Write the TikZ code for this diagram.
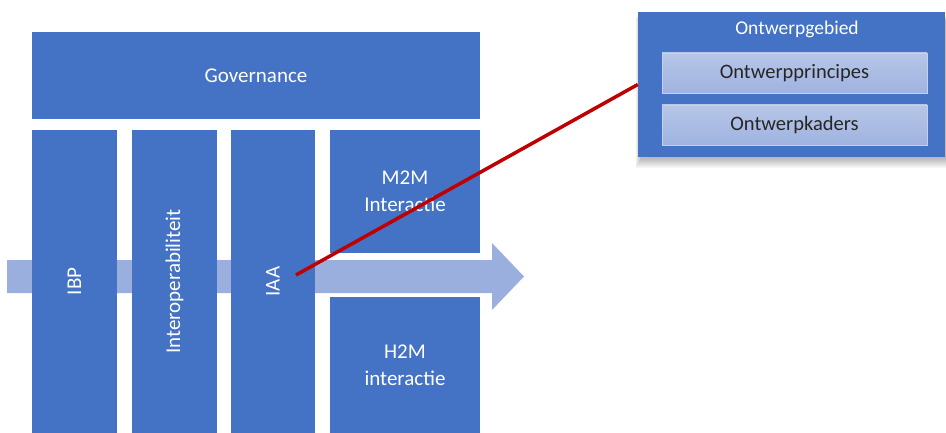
\documentclass[tikz,border=0pt]{standalone}
\usepackage{fontspec}
\setmainfont{Carlito}
\usepackage{tikz}
\definecolor{blok}{HTML}{4472C4}
\definecolor{pijl}{HTML}{9AAFDD}
\definecolor{lijn}{HTML}{C00000}
\definecolor{kader}{HTML}{9FB3E0}
\tikzstyle{block} = [rectangle, fill=blok, text=white, align=center,
    font=\fontsize{21}{27}\selectfont, inner sep=0pt]
\tikzstyle{line} = [draw=lijn, line width=3.5pt]

\begin{document}
\begin{tikzpicture}[x=1pt, y=-1pt,
    column/.style={block, rotate=90, minimum width=303pt, minimum height=85pt},
    inner/.style={rectangle, draw=kader!60!white, top color=kader!75!white,
        bottom color=kader, minimum width=265pt, minimum height=40pt,
        text=black!85, font=\fontsize{20.5}{24}\selectfont}
    ]
    \useasboundingbox (0,0) rectangle (946,433);

    \fill[pijl] (7,260) -- (492,260) -- (492,243) -- (524,276.5) -- (492,310) --
          (492,293) -- (7,293) -- cycle;

    \node[block, minimum width=448pt, minimum height=87pt] (gov) at (256,75.5) {Governance};
    \node[column] (ibp) at (74.5,281.5) {IBP};
    \node[column] (interop) at (174.5,281.5) {Interoperabiliteit};
    \node[column, minimum height=84pt] (iaa) at (273,281.5) {IAA};
    \node[block, minimum width=150pt, minimum height=123pt] (m2m) at (405,191.5) {M2M\\Interactie};
    \node[block, minimum width=150pt, minimum height=136pt] (h2m) at (405,365) {H2M\\interactie};

    \foreach \s in {0,...,9}
        \fill[black, opacity=0.03] (641-0.6*\s,20-0.4*\s) rectangle (946+0.6*\s,159+\s);
    \node[block, minimum width=307pt, minimum height=145pt] (gebied) at (791.5,84.5) {};
    \node[text=white, font=\fontsize{19.5}{22}\selectfont] (titel) at (797,29) {Ontwerpgebied};
    \node[inner] (principes) at (794.5,73) {Ontwerpprincipes};
    \node[inner] (kaders) at (794.5,125) {Ontwerpkaders};

    \coordinate (iaapunt) at (296,275);
    \path[line] (iaapunt) -- (gebied.west);
\end{tikzpicture}
\end{document}
